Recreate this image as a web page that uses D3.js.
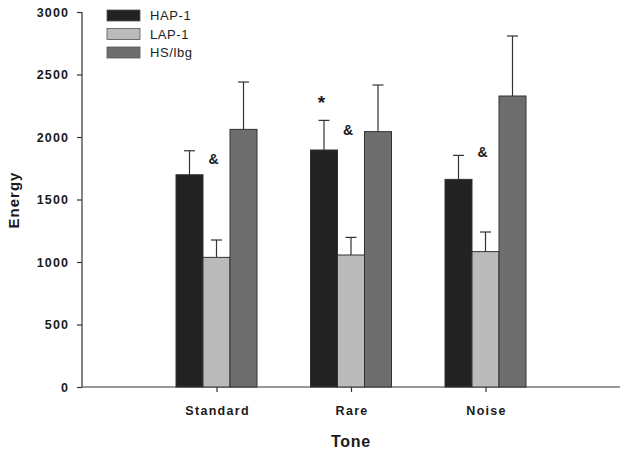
<!DOCTYPE html>
<html><head><meta charset="utf-8">
<script src="https://cdn.jsdelivr.net/npm/d3@7"></script>
<style>body{margin:0;background:#fff}svg{display:block}text{font-family:"Liberation Sans",Arial,sans-serif}</style>
</head><body><svg id="c" width="624" height="455"></svg>
<script>
const categories = ["Standard","Rare","Noise"];
const seriesNames = ["HAP-1","LAP-1","HS/lbg"];
const seriesColors = ["#222222","#bbbbbb","#6e6e6e"];
const hap1 = [1698, 1896, 1661];
const hap1Err = [1890, 2133, 1853];
const lap1 = [1037, 1056, 1083];
const lap1Err = [1176, 1197, 1240];
const hslbg = [2061, 2043, 2328];
const hslbgErr = [2440, 2416, 2808];
const yTicks = [0,500,1000,1500,2000,2500,3000];
const annotCats = ["Standard","Rare","Rare","Noise"];
const annotSeries = [1,0,1,1];
const annotText = ["&","*","&","&"];
const annotLevel = [1784,2226,2016,1840];

const values=[hap1,lap1,hslbg], errs=[hap1Err,lap1Err,hslbgErr];
const svg=d3.select("#c");
const L=82,R=620,T=12,B=387;
const x=d3.scaleLinear().domain([0,categories.length+1]).range([L,R]);
const y=d3.scaleLinear().domain([0,3000]).range([B,T]);
const groupW=81, bw=groupW/3;

const ya=svg.append("g").attr("transform",`translate(${L},0)`).call(d3.axisLeft(y).tickValues(yTicks).tickSize(5).tickPadding(8).tickFormat(d3.format("d")));
ya.select(".domain").attr("d",`M0,${T}V${B}`);
ya.selectAll(".tick text").attr("dy","0.35em");
const xa=svg.append("g").attr("transform",`translate(0,${B})`).call(d3.axisBottom(x).tickValues(categories.map((c,i)=>i+1)).tickSize(5).tickPadding(14).tickFormat((d)=>categories[d-1]));
xa.select(".domain").attr("d",`M${L},0H${R}`);
svg.selectAll(".tick text").attr("font-size",12.5).attr("font-weight","bold").attr("fill","#1a1a1a").attr("letter-spacing","1.1px").attr("font-family","'Liberation Sans',Arial,sans-serif");
xa.selectAll(".tick text").attr("letter-spacing","1.3px").attr("dx","0.6px");
svg.selectAll(".domain,.tick line").attr("stroke","#333").attr("stroke-width",1.2);

categories.forEach((c,i)=>{
  const cx=x(i+1);
  seriesNames.forEach((s,j)=>{
    const x0=cx-groupW/2+j*bw;
    const v=values[j][i], e=errs[j][i];
    svg.append("line").attr("x1",x0+bw/2).attr("x2",x0+bw/2).attr("y1",y(v)).attr("y2",y(e)).attr("stroke","#333").attr("stroke-width",1.2);
    svg.append("line").attr("x1",x0+bw/2-5.5).attr("x2",x0+bw/2+5.5).attr("y1",y(e)).attr("y2",y(e)).attr("stroke","#333").attr("stroke-width",1.2);
    svg.append("rect").attr("x",x0).attr("y",y(v)).attr("width",bw).attr("height",y(0)-y(v)).attr("fill",seriesColors[j]).attr("stroke","#333").attr("stroke-width",1);
  });
});
annotText.forEach((t,k)=>{
  const i=categories.indexOf(annotCats[k]);
  const cx=x(i+1)-groupW/2+annotSeries[k]*bw+bw/2;
  svg.append("text").attr("x",cx-(t==="*"?2.5:3)).attr("y",y(annotLevel[k])).attr("text-anchor","middle")
    .attr("font-size",t==="*"?19:14).attr("font-weight","bold").attr("fill","#1a1a1a").text(t);
});

svg.append("text").attr("x",351).attr("y",447).attr("text-anchor","middle").attr("font-size",16).attr("font-weight","bold").attr("letter-spacing","0.7px").attr("fill","#1a1a1a").text("Tone");
svg.append("text").attr("transform","translate(19,200) rotate(-90)").attr("text-anchor","middle").attr("font-size",15).attr("font-weight","bold").attr("letter-spacing","1px").attr("fill","#1a1a1a").text("Energy");

const lg=svg.append("g");
seriesNames.forEach((s,j)=>{
  lg.append("rect").attr("x",107).attr("y",10+j*18.5).attr("width",33).attr("height",11).attr("fill",seriesColors[j]).attr("stroke","#555").attr("stroke-width",0.8);
  lg.append("text").attr("x",150).attr("y",20+j*18.5).attr("font-size",13).attr("letter-spacing","0.6px").attr("fill","#222").text(s);
});
</script></body></html>
